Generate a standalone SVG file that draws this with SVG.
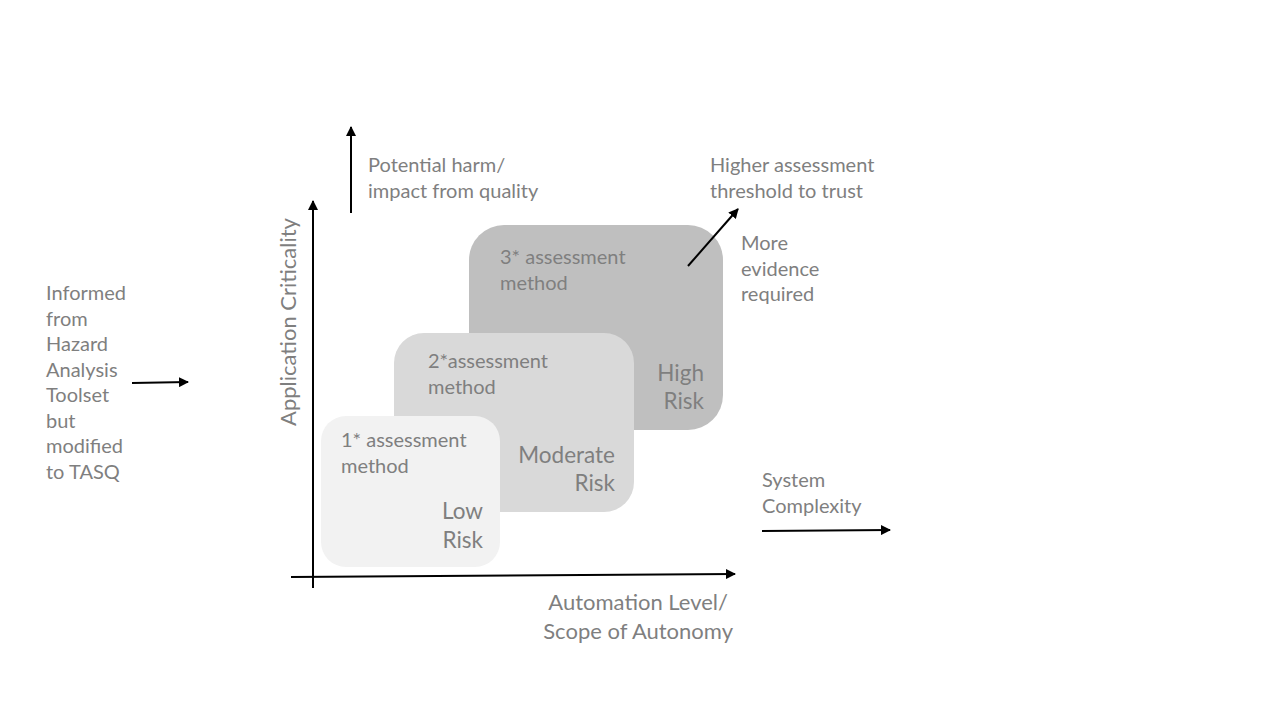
<svg xmlns="http://www.w3.org/2000/svg" width="1280" height="720" viewBox="0 0 1280 720">
<style>
text{font-family:Lato,"Open Sans","Liberation Sans",sans-serif;font-size:20px;fill:#7f7f7f}
.risk{font-size:22.5px;text-anchor:end}
.axl{font-size:22px}
.ax{stroke:#000;stroke-width:2;fill:none;marker-end:url(#ah)}
</style>
<defs>
<marker id="ah" viewBox="0 0 10 10" refX="9" refY="5" markerWidth="5" markerHeight="5" orient="auto" markerUnits="strokeWidth">
<path d="M0,0 L10,5 L0,10 z" fill="#000"/>
</marker>
</defs>
<rect width="1280" height="720" fill="#fff"/>
<g id="high">
<rect x="469" y="225" width="254" height="205" rx="35" fill="#bfbfbf"/>
<text x="500" y="264">3* assessment</text>
<text x="500" y="290">method</text>
<text class="risk" x="704" y="381">High</text>
<text class="risk" x="704" y="409">Risk</text>
</g>
<g id="moderate">
<rect x="394" y="333" width="240" height="179" rx="30" fill="#d9d9d9"/>
<text x="428" y="368">2*assessment</text>
<text x="428" y="394">method</text>
<text class="risk" x="615" y="463">Moderate</text>
<text class="risk" x="615" y="491">Risk</text>
</g>
<g id="low">
<rect x="321" y="416" width="179" height="151" rx="25" fill="#f2f2f2"/>
<text x="341" y="447">1* assessment</text>
<text x="341" y="473">method</text>
<text class="risk" x="483" y="519">Low</text>
<text class="risk" x="483" y="548">Risk</text>
</g>
<g id="connectors">
<line class="ax" x1="313" y1="588" x2="313" y2="201"/>
<line class="ax" x1="291" y1="577" x2="735" y2="574"/>
<line class="ax" x1="351" y1="213" x2="351" y2="127"/>
<line class="ax" x1="688" y1="266" x2="738" y2="209"/>
<line class="ax" x1="132" y1="383" x2="188" y2="382"/>
<line class="ax" x1="762" y1="531" x2="890" y2="530"/>
</g>
<g id="labels">
<text x="368" y="172">Potential harm/</text>
<text x="368" y="198">impact from quality</text>
<text x="710" y="172">Higher assessment</text>
<text x="710" y="198">threshold to trust</text>
<text x="741" y="250">More</text>
<text x="741" y="276">evidence</text>
<text x="741" y="301">required</text>
<text x="762" y="487">System</text>
<text x="762" y="513">Complexity</text>
<text class="axl" x="728" y="610" text-anchor="end">Automation Level/</text>
<text class="axl" x="733" y="639" text-anchor="end">Scope of Autonomy</text>
<text class="axl" transform="translate(296,322) rotate(-90)" text-anchor="middle">Application Criticality</text>
<text x="46" y="300">Informed</text>
<text x="46" y="326">from</text>
<text x="46" y="351">Hazard</text>
<text x="46" y="377">Analysis</text>
<text x="46" y="402">Toolset</text>
<text x="46" y="428">but</text>
<text x="46" y="453">modified</text>
<text x="46" y="479">to TASQ</text>
</g>
</svg>
